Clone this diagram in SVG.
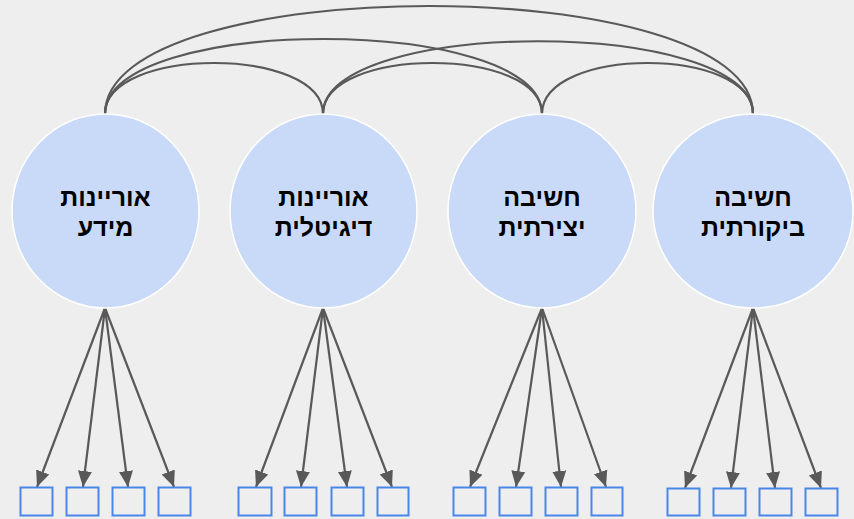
<svg xmlns="http://www.w3.org/2000/svg" width="854" height="519" viewBox="0 0 854 519">
<defs>
<style>
.bg{fill:#eeeeee}
.node ellipse{fill:#c9daf8;stroke:#ffffff;stroke-width:1.5}
.node text{font-family:"Liberation Sans","DejaVu Sans",sans-serif;font-weight:bold;font-size:25px;fill:#000000;text-anchor:middle}
.arc{fill:none;stroke:#595959;stroke-width:2.2}
.ind{fill:none;stroke:#595959;stroke-width:2.2;marker-end:url(#ah)}
.box rect{fill:none;stroke:#4a86e8;stroke-width:2}
</style>
<marker id="ah" markerUnits="userSpaceOnUse" markerWidth="16" markerHeight="16" viewBox="0 0 16 14" refX="16" refY="7" orient="auto">
<path d="M0,0 L16,7 L0,14 Z" fill="#595959"/>
</marker>
</defs>
<rect class="bg" x="0" y="0" width="854" height="519"/>
<g id="connectors">
<path class="arc" d="M105,114 C105,46 323,46 323,114"/>
<path class="arc" d="M323,114 C323,46 542,46 542,114"/>
<path class="arc" d="M542,114 C542,46 753,46 753,114"/>
<path class="arc" d="M105,114 C105,14 542,14 542,114"/>
<path class="arc" d="M323,114 C323,17 753,17 753,114"/>
<path class="arc" d="M105,114 C105,-30 753,-30 753,114"/>
<line class="ind" x1="105" y1="308" x2="37" y2="487"/>
<line class="ind" x1="105" y1="308" x2="83" y2="487"/>
<line class="ind" x1="105" y1="308" x2="128" y2="487"/>
<line class="ind" x1="105" y1="308" x2="174" y2="487"/>
<line class="ind" x1="323" y1="308" x2="256" y2="487"/>
<line class="ind" x1="323" y1="308" x2="301" y2="487"/>
<line class="ind" x1="323" y1="308" x2="347" y2="487"/>
<line class="ind" x1="323" y1="308" x2="392" y2="487"/>
<line class="ind" x1="542" y1="308" x2="470" y2="487"/>
<line class="ind" x1="542" y1="308" x2="516" y2="487"/>
<line class="ind" x1="542" y1="308" x2="561" y2="487"/>
<line class="ind" x1="542" y1="308" x2="606" y2="487"/>
<line class="ind" x1="753" y1="308" x2="685" y2="488"/>
<line class="ind" x1="753" y1="308" x2="731" y2="488"/>
<line class="ind" x1="753" y1="308" x2="775" y2="488"/>
<line class="ind" x1="753" y1="308" x2="821" y2="488"/>
</g>
<g id="n1" class="node">
<ellipse cx="105.5" cy="211" rx="93.5" ry="97"/>
<text x="105.5" y="206">אוריינות</text>
<text x="105.5" y="236">מידע</text>
</g>
<g id="n2" class="node">
<ellipse cx="323.5" cy="211" rx="93.5" ry="97"/>
<text x="323.5" y="206">אוריינות</text>
<text x="323.5" y="236">דיגיטלית</text>
</g>
<g id="n3" class="node">
<ellipse cx="542" cy="211" rx="94" ry="97"/>
<text x="542" y="206">חשיבה</text>
<text x="542" y="236">יצירתית</text>
</g>
<g id="n4" class="node">
<ellipse cx="753" cy="211" rx="100" ry="97"/>
<text x="753" y="206">חשיבה</text>
<text x="753" y="236">ביקורתית</text>
</g>
<g id="i1" class="box"><rect x="20.5" y="487.5" width="32" height="28"/></g>
<g id="i2" class="box"><rect x="66.5" y="487.5" width="32" height="28"/></g>
<g id="i3" class="box"><rect x="112.5" y="487.5" width="32" height="28"/></g>
<g id="i4" class="box"><rect x="158.5" y="487.5" width="32" height="28"/></g>
<g id="i5" class="box"><rect x="238.5" y="487.5" width="33" height="28"/></g>
<g id="i6" class="box"><rect x="284.5" y="487.5" width="32" height="28"/></g>
<g id="i7" class="box"><rect x="331.5" y="487.5" width="32" height="28"/></g>
<g id="i8" class="box"><rect x="377.5" y="487.5" width="31" height="28"/></g>
<g id="i9" class="box"><rect x="453.5" y="487.5" width="32" height="28"/></g>
<g id="i10" class="box"><rect x="499.5" y="487.5" width="32" height="28"/></g>
<g id="i11" class="box"><rect x="545.5" y="487.5" width="32" height="28"/></g>
<g id="i12" class="box"><rect x="591.5" y="487.5" width="31" height="28"/></g>
<g id="i13" class="box"><rect x="667.5" y="488.5" width="32" height="27"/></g>
<g id="i14" class="box"><rect x="713.5" y="488.5" width="32" height="27"/></g>
<g id="i15" class="box"><rect x="759.5" y="488.5" width="32" height="27"/></g>
<g id="i16" class="box"><rect x="805.5" y="488.5" width="32" height="27"/></g>
</svg>
